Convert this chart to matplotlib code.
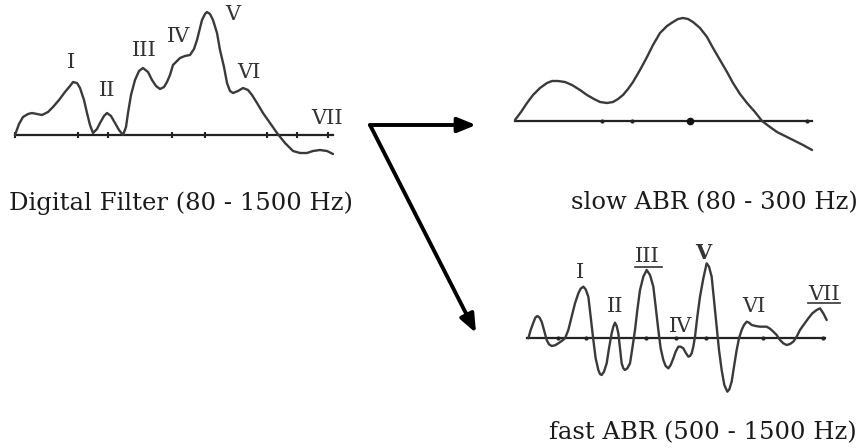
import numpy as np
import matplotlib.pyplot as plt

plt.rcParams['font.family'] = ['DejaVu Serif', 'Liberation Serif']

# waveform traces (x, y in picture pixels, y down)
dig_x = [15, 19, 23, 28, 32, 37, 42, 48, 53, 59, 65, 70, 73, 77, 80, 84, 87, 90, 93, 97, 100, 104,
         107, 111, 115, 119, 123, 126, 128, 131, 135, 139, 143, 148, 152, 156, 160, 164, 167, 170,
         173, 177, 180, 185, 190, 194, 197, 200, 202, 205, 207, 210, 213, 217, 220, 224, 227, 230,
         233, 238, 243, 248, 252, 257, 263, 270, 277, 285, 293, 300, 307, 313, 320, 327, 333]
dig_y = [135, 124, 117, 114, 113, 114, 115, 112, 107, 100, 92, 86, 82, 83, 88, 100, 113, 125, 133, 129,
         123, 116, 113, 116, 123, 130, 135, 127, 113, 95, 80, 71, 68, 72, 80, 86, 89, 87, 82, 75,
         65, 61, 58, 56, 55, 49, 40, 28, 20, 14, 12, 14, 20, 33, 50, 67, 83, 91, 93, 91, 88, 90,
         95, 103, 113, 123, 133, 143, 151, 153, 153, 151, 150, 151, 154]

slow_x = [515, 521, 527, 533, 540, 547, 552, 558, 565, 572, 580, 587, 594, 600, 607, 613, 618, 623,
          628, 633, 640, 647, 653, 660, 667, 673, 678, 683, 688, 693, 700, 707, 713, 720, 727, 733,
          740, 747, 755, 762, 770, 777, 785, 793, 803, 812]
slow_y = [120, 112, 103, 95, 88, 83, 81, 81, 82, 85, 90, 95, 99, 102, 103, 102, 99, 95, 89, 82, 70,
          57, 45, 33, 26, 22, 19, 18, 19, 22, 28, 37, 48, 60, 72, 83, 94, 103, 112, 121, 127, 132,
          136, 140, 145, 150]

fast_zx = [145, 152, 160, 166, 172, 178, 185, 192, 200, 207, 215, 225, 235, 245, 255, 265, 275, 285,
           295, 302, 310, 317, 325, 332, 340, 347, 355, 360, 365, 372, 380, 387, 395, 400, 405, 410,
           415, 420, 425, 430, 435, 442, 450, 457, 465, 472, 480, 490, 500, 510, 520, 527, 535, 542,
           550, 557, 565, 572, 580, 587, 595, 602, 610, 617, 625, 630, 635, 640, 645, 652, 660, 670,
           680, 687, 695, 702, 710, 717, 725, 733, 742, 748, 755, 762, 770, 777, 785, 792, 800, 807,
           815, 827, 840, 850, 860, 870, 880, 890, 900, 910, 920, 930, 940, 950, 960, 972, 985, 997,
           1010, 1020, 1030, 1040]
fast_zy = [325, 300, 278, 263, 258, 262, 275, 300, 330, 343, 348, 346, 340, 333, 325, 300, 260, 220,
           190, 176, 170, 178, 200, 260, 330, 385, 420, 432, 435, 425, 400, 355, 310, 290, 278, 288,
           310, 355, 400, 415, 420, 415, 400, 355, 300, 240, 180, 140, 120, 135, 170, 230, 300, 355,
           390, 408, 415, 405, 385, 365, 350, 350, 355, 368, 380, 378, 370, 350, 320, 260, 200, 145,
           100, 110, 140, 210, 290, 360, 420, 465, 485, 478, 455, 410, 360, 325, 300, 285, 275, 278,
           285, 288, 290, 290, 290, 296, 305, 315, 330, 340, 345, 342, 335, 320, 300, 283, 265, 250,
           240, 235, 250, 270]
fast_x = [x / 3 + 480 for x in fast_zx]
fast_y = [y / 3 + 230 for y in fast_zy]

dig_ticks = [15, 78, 108, 172, 205, 267, 297, 328]
slow_ticks = [602, 632, 690, 807]
fast_ticks = [558, 586, 646, 676, 706, 763, 823]

dig_labels = ['I', 'II', 'III', 'IV', 'V', 'VI', 'VII']
dig_lx = [71, 107, 144, 179, 233, 249, 327]
dig_ly = [62, 91, 51, 37, 14, 72, 119]
fast_labels = ['I', 'II', 'III', 'IV', 'V', 'VI', 'VII']
fast_lx = [580, 615, 647, 681, 703, 754, 824]
fast_ly = [272, 306, 257, 327, 253, 306, 294]

captions = ['Digital Filter (80 - 1500 Hz)', 'slow ABR (80 - 300 Hz)', 'fast ABR (500 - 1500 Hz)']
cap_x = [181, 714, 703]
cap_y = [203, 203, 433]

fig = plt.figure(figsize=(8.66, 4.48), dpi=100)
ax = fig.add_axes([0, 0, 1, 1])
ax.set_xlim(0, 866)
ax.set_ylim(448, 0)
ax.axis('off')

wave = dict(color='#3a3a3a', lw=1.7, solid_joinstyle='round', solid_capstyle='round')
base = dict(color='#222222', lw=1.6)

# digital filter trace
ax.plot([15, 333], [135, 135], **base)
ax.plot(dig_ticks, [135] * len(dig_ticks), '|', color='#222222', ms=4, mew=1.5)
ax.plot(dig_x, dig_y, **wave)

# slow ABR
ax.plot([515, 812], [121, 121], **base)
ax.plot(slow_ticks, [121] * len(slow_ticks), 'o', color='#222222', ms=2)
ax.plot([690], [121], 'o', color='#111111', ms=4.5)
ax.plot(slow_x, slow_y, **wave)

# fast ABR
ax.plot([527, 825], [338, 338], **base)
ax.plot(fast_ticks, [338] * len(fast_ticks), 'o', color='#222222', ms=2)
ax.plot(fast_x, fast_y, **wave)

for t, x, y in zip(dig_labels, dig_lx, dig_ly):
    ax.text(x, y, t, fontsize=15, ha='center', va='center', color='#333333')
for t, x, y in zip(fast_labels, fast_lx, fast_ly):
    w = 'bold' if t == 'V' else 'normal'
    ax.text(x, y, t, fontsize=15, ha='center', va='center', color='#333333', fontweight=w)
# underlines under III and VII
ax.plot([635, 662], [267, 267], color='#333333', lw=1.2)
ax.plot([808, 840], [303, 303], color='#333333', lw=1.2)

for t, x, y in zip(captions, cap_x, cap_y):
    ax.text(x, y, t, fontsize=17.5, ha='center', va='center', color='#1a1a1a')

# arrows
arr = dict(arrowstyle='-|>,head_length=1.1,head_width=0.45', color='black', lw=2.8,
           shrinkA=0, shrinkB=0)
ax.annotate('', xy=(476, 125), xytext=(370, 125), arrowprops=arr)
ax.annotate('', xy=(476, 333), xytext=(370, 125), arrowprops=arr)

fig.savefig('out.png', dpi=100)
